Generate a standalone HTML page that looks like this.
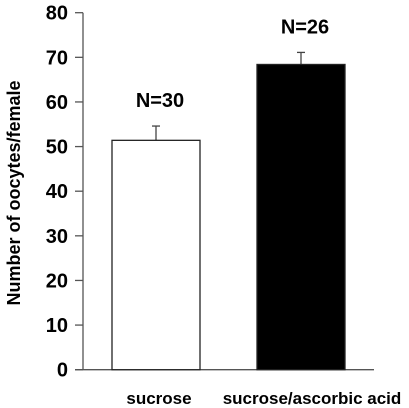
<!DOCTYPE html>
<html><head><meta charset="utf-8"><style>
html,body{margin:0;padding:0;background:#fff}
svg{display:block;font-family:"Liberation Sans",Arial,sans-serif;font-weight:bold}
</style></head><body>
<svg id="chart" width="409" height="408" viewBox="0 0 409 408"></svg>
<script>
const categories = ["sucrose", "sucrose/ascorbic acid"];
const values = [51.4, 68.4];
const errors = [3.2, 2.7];
const nLabels = ["N=30", "N=26"];
const yTicks = [0, 10, 20, 30, 40, 50, 60, 70, 80];
const fills = ["#fff", "#000"];

const svg = document.getElementById('chart');
const NS = 'http://www.w3.org/2000/svg';
const y0 = 369.7, y80 = 12.7;
function y(v){ return y0 - (v/80)*(y0-y80); }
const axisX = 83;
const barW = 88;
const barCenters = [156, 301];
function x(i){ return barCenters[i]; }
function mk(tag, attrs, name){
  const e = document.createElementNS(NS, tag);
  for (const k in attrs) e.setAttribute(k, attrs[k]);
  
  
  svg.appendChild(e);
  return e;
}
mk('line',{x1:axisX,y1:y80,x2:axisX,y2:y0,stroke:'#555','stroke-width':1.3},'y-axis');
mk('line',{x1:75,y1:y0,x2:374,y2:y0,stroke:'#555','stroke-width':1.3},'x-axis');
yTicks.forEach(t=>{
  mk('line',{x1:75,y1:y(t),x2:axisX,y2:y(t),stroke:'#555','stroke-width':1.3},'y-tick');
  const tx = mk('text',{x:68,y:y(t)+7,'text-anchor':'end','font-size':20},'y-tick-label');
  tx.textContent = t;
});
categories.forEach((c,i)=>{
  const cx = x(i);
  const top = y(values[i]);
  const et = y(values[i]+errors[i]);
  mk('line',{x1:cx,y1:top,x2:cx,y2:et,stroke:'#444','stroke-width':1.3},'error-bar');
  mk('line',{x1:cx-4,y1:et,x2:cx+4,y2:et,stroke:'#444','stroke-width':1.3},'error-cap');
  mk('rect',{x:cx-barW/2,y:top,width:barW,height:y0-top,fill:fills[i],stroke:'#222','stroke-width':1.3},'bar-'+(i+1));
  const nl = mk('text',{x:cx+4,y:et-19,'text-anchor':'middle','font-size':20},'n-label');
  nl.textContent = nLabels[i];
  const cl = mk('text',{x:i===0?159:312,y:404,'text-anchor':'middle','font-size':17},'category-label');
  cl.textContent = c;
});
const yt = mk('text',{x:0,y:0,'text-anchor':'middle','font-size':18,transform:'translate(20,193) rotate(-90)'},'y-axis-title');
yt.textContent = 'Number of oocytes/female';
</script>
</body></html>
